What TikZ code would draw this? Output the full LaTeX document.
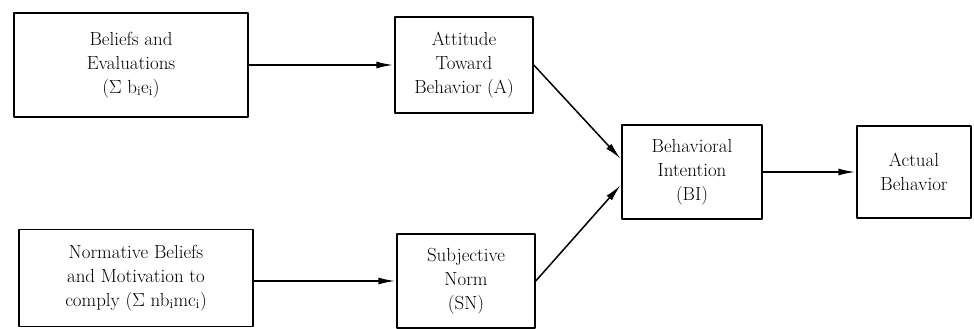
\documentclass[tikz,border=0pt]{standalone}
\usepackage{amsmath}
\usepackage{fontspec}
\usepackage[x11names, rgb]{xcolor}
\usepackage{tikz}
\usetikzlibrary{arrows,arrows.meta,shapes}

\begin{document}
\begin{tikzpicture}[>={Latex[length=17bp,width=7bp]},line join=bevel,
  box/.style={draw,rectangle,align=center,inner sep=0pt,
    font=\fontsize{19}{24}\selectfont},
  link/.style={->,shorten >=1bp}]
  \pgfsetlinewidth{1.5bp}
  \useasboundingbox (0bp,0bp) rectangle (974bp,329bp);
%%
\pgfsetcolor{black}
  % Node: Beliefs and Evaluations
  \node[box,minimum width=234bp,minimum height=104bp] (bel) at (131bp,264bp)
    {Beliefs and\\Evaluations\\(Σ\ b\textsubscript{i}e\textsubscript{i})};
  % Node: Normative Beliefs
  \node[box,minimum width=234bp,minimum height=97bp] (norm) at (136bp,51bp)
    {Normative Beliefs\\and Motivation to\\comply (Σ\ nb\textsubscript{i}mc\textsubscript{i})};
  % Node: Attitude Toward Behavior
  \node[box,minimum width=138bp,minimum height=96bp] (att) at (464bp,264bp)
    {Attitude\\Toward\\Behavior (A)};
  % Node: Subjective Norm
  \node[box,minimum width=138bp,minimum height=94bp] (sn) at (466bp,48bp)
    {Subjective\\Norm\\(SN)};
  % Node: Behavioral Intention
  \node[box,minimum width=140bp,minimum height=94bp] (bi) at (692bp,157bp)
    {Behavioral\\Intention\\(BI)};
  % Node: Actual Behavior
  \node[box,minimum width=114bp,minimum height=92bp] (act) at (914bp,157bp)
    {Actual\\Behavior};
%
  % Edge: Beliefs and Evaluations -> Attitude
  \draw [link] (bel.east) -- (att.west);
  % Edge: Normative Beliefs -> Subjective Norm
  \draw [link] (norm.east |- sn.west) -- (sn.west);
  % Edge: Attitude -> Behavioral Intention
  \draw [link] (att.east) -- (bi.170);
  % Edge: Subjective Norm -> Behavioral Intention
  \draw [link] (sn.east) -- (bi.190);
  % Edge: Behavioral Intention -> Actual Behavior
  \draw [link] (bi.east) -- (act.west);
%
\end{tikzpicture}
\end{document}
